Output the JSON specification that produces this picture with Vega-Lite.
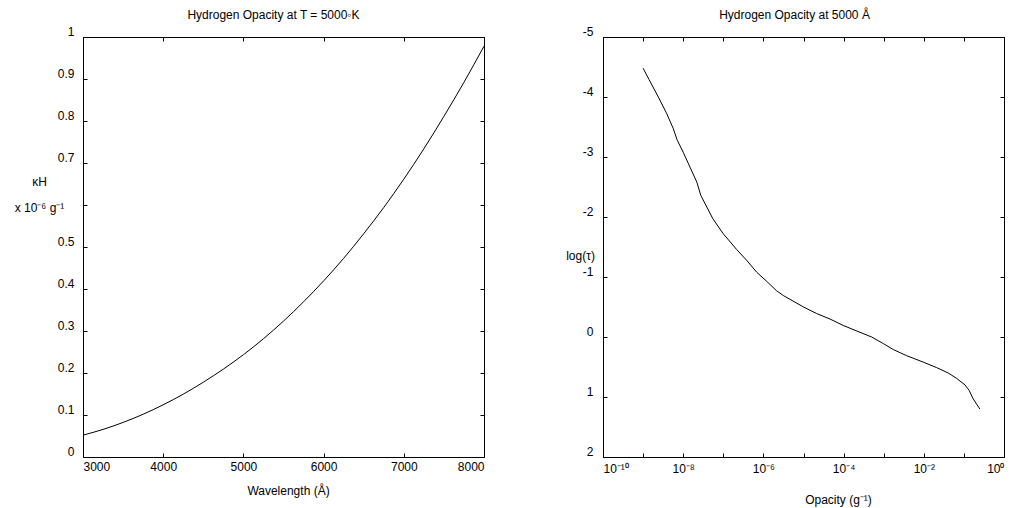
{
  "$schema": "https://vega.github.io/schema/vega-lite/v6.json",
  "background": "white",
  "padding": {"left": 13, "top": 8, "right": 5, "bottom": 2},
  "bounds": "flush",
  "spacing": 119,
  "config": {
    "font": "Liberation Sans",
    "view": {"stroke": "black", "strokeWidth": 1},
    "axis": {
      "grid": false,
      "domain": false,
      "tickColor": "black",
      "tickSize": -4,
      "tickWidth": 1,
      "labelFont": "Liberation Sans",
      "labelFontSize": 12,
      "labelColor": "black",
      "titleFont": "Liberation Sans",
      "titleFontSize": 12,
      "titleFontWeight": "normal",
      "titleColor": "black"
    },
    "title": {"font": "Liberation Sans", "fontSize": 12, "fontWeight": "normal", "color": "black", "offset": 3, "anchor": "middle"}
  },
  "hconcat": [
    {
      "width": 401,
      "height": 420,
      "title": {"text": "Hydrogen Opacity at T = 5000◦K", "dx": -10},
      "data": {"values": [
        {"wavelength": 3000, "kappa": 0.052},
        {"wavelength": 3250, "kappa": 0.0657},
        {"wavelength": 3500, "kappa": 0.0823},
        {"wavelength": 3750, "kappa": 0.1018},
        {"wavelength": 4000, "kappa": 0.1243},
        {"wavelength": 4250, "kappa": 0.1497},
        {"wavelength": 4500, "kappa": 0.178},
        {"wavelength": 4750, "kappa": 0.2093},
        {"wavelength": 5000, "kappa": 0.2435},
        {"wavelength": 5250, "kappa": 0.2816},
        {"wavelength": 5500, "kappa": 0.3236},
        {"wavelength": 5750, "kappa": 0.3695},
        {"wavelength": 6000, "kappa": 0.4193},
        {"wavelength": 6250, "kappa": 0.473},
        {"wavelength": 6500, "kappa": 0.5316},
        {"wavelength": 6750, "kappa": 0.5941},
        {"wavelength": 7000, "kappa": 0.6615},
        {"wavelength": 7250, "kappa": 0.7338},
        {"wavelength": 7500, "kappa": 0.811},
        {"wavelength": 7750, "kappa": 0.8921},
        {"wavelength": 8000, "kappa": 0.9781}
      ]},
      "layer": [
        {
          "mark": {"type": "line", "color": "black", "strokeWidth": 1, "interpolate": "monotone"},
          "encoding": {
            "x": {"field": "wavelength", "type": "quantitative",
              "scale": {"domain": [3000, 8000], "nice": false, "zero": false},
              "axis": {"orient": "bottom", "values": [3000, 4000, 5000, 6000, 7000, 8000], "format": "d", "labelPadding": 8,
                "title": "Wavelength (Å)", "titleX": 205, "titleY": 33, "titleBaseline": "middle", "titleAnchor": null}},
            "y": {"field": "kappa", "type": "quantitative",
              "scale": {"domain": [0, 1], "nice": false},
              "axis": {"orient": "left", "values": [0, 0.1, 0.2, 0.3, 0.4, 0.5, 0.6, 0.7, 0.8, 0.9, 1],
                "labelExpr": "abs(datum.value - 0.6) < 0.001 ? '' : format(datum.value, '~g')",
                "labelBaseline": "alphabetic", "labelOffset": -2, "labelPadding": 13,
                "title": ["κH", "x 10⁻⁶ g⁻¹"], "titleAngle": 0, "titleAlign": "center", "titleBaseline": "middle",
                "titleX": -44, "titleY": 144, "titleLineHeight": 26}}
          }
        },
        {
          "mark": {"type": "line", "strokeOpacity": 0},
          "encoding": {
            "x": {"field": "wavelength", "type": "quantitative",
              "axis": {"orient": "top", "values": [3000, 4000, 5000, 6000, 7000, 8000], "labels": false, "title": null}},
            "y": {"field": "kappa", "type": "quantitative",
              "axis": {"orient": "right", "values": [0, 0.1, 0.2, 0.3, 0.4, 0.5, 0.6, 0.7, 0.8, 0.9, 1], "labels": false, "title": null}}
          }
        }
      ],
      "resolve": {"axis": {"x": "independent", "y": "independent"}}
    },
    {
      "width": 401,
      "height": 420,
      "title": {"text": "Hydrogen Opacity at 5000 Å", "dx": -9},
      "data": {"values": [
        {"opacity": 1e-9, "logtau": -4.48},
        {"opacity": 1.41e-9, "logtau": -4.29},
        {"opacity": 2.4e-9, "logtau": -4.0},
        {"opacity": 3.9e-9, "logtau": -3.72},
        {"opacity": 5.6e-9, "logtau": -3.48},
        {"opacity": 7.1e-9, "logtau": -3.28},
        {"opacity": 1e-8, "logtau": -3.08},
        {"opacity": 1.48e-8, "logtau": -2.83},
        {"opacity": 2.19e-8, "logtau": -2.58},
        {"opacity": 2.75e-8, "logtau": -2.36},
        {"opacity": 5.5e-8, "logtau": -1.97},
        {"opacity": 1e-7, "logtau": -1.72},
        {"opacity": 2.14e-7, "logtau": -1.46},
        {"opacity": 3.8e-7, "logtau": -1.28},
        {"opacity": 6.8e-7, "logtau": -1.08},
        {"opacity": 1.2e-6, "logtau": -0.93},
        {"opacity": 2.14e-6, "logtau": -0.77},
        {"opacity": 3.16e-6, "logtau": -0.69},
        {"opacity": 1e-5, "logtau": -0.50},
        {"opacity": 2.14e-5, "logtau": -0.39},
        {"opacity": 4.57e-5, "logtau": -0.30},
        {"opacity": 1e-4, "logtau": -0.19},
        {"opacity": 2.14e-4, "logtau": -0.10},
        {"opacity": 5e-4, "logtau": 0.0},
        {"opacity": 9.8e-4, "logtau": 0.11},
        {"opacity": 1.74e-3, "logtau": 0.21},
        {"opacity": 3.7e-3, "logtau": 0.31},
        {"opacity": 9.8e-3, "logtau": 0.42},
        {"opacity": 0.0209, "logtau": 0.51},
        {"opacity": 0.0407, "logtau": 0.60},
        {"opacity": 0.066, "logtau": 0.69},
        {"opacity": 0.107, "logtau": 0.80},
        {"opacity": 0.135, "logtau": 0.89},
        {"opacity": 0.17, "logtau": 1.03},
        {"opacity": 0.25, "logtau": 1.20}
      ]},
      "layer": [
        {
          "mark": {"type": "line", "color": "black", "strokeWidth": 1},
          "encoding": {
            "x": {"field": "opacity", "type": "quantitative",
              "scale": {"type": "log", "domain": [1e-10, 1], "nice": false},
              "axis": {"orient": "bottom", "values": [1e-10, 1e-9, 1e-8, 1e-7, 1e-6, 1e-5, 1e-4, 1e-3, 1e-2, 1e-1, 1], "labelPadding": 10,
                "labelExpr": "round(log(datum.value)/LN10) == -10 ? '10⁻¹⁰' : round(log(datum.value)/LN10) == -8 ? '10⁻⁸' : round(log(datum.value)/LN10) == -6 ? '10⁻⁶' : round(log(datum.value)/LN10) == -4 ? '10⁻⁴' : round(log(datum.value)/LN10) == -2 ? '10⁻²' : round(log(datum.value)/LN10) == 0 ? '10⁰' : ''",
                "title": "Opacity (g⁻¹)", "titleX": 235, "titleY": 42, "titleBaseline": "middle", "titleAnchor": null}},
            "y": {"field": "logtau", "type": "quantitative",
              "scale": {"domain": [-5, 2], "reverse": true, "nice": false, "zero": false},
              "axis": {"orient": "left", "values": [-5, -4, -3, -2, -1, 0, 1, 2], "labelExpr": "'' + datum.value",
                "labelBaseline": "alphabetic", "labelOffset": -2, "labelPadding": 14,
                "title": "log(τ)", "titleAngle": 0, "titleAlign": "center", "titleBaseline": "middle",
                "titleX": -23, "titleY": 218}}
          }
        },
        {
          "mark": {"type": "line", "strokeOpacity": 0},
          "encoding": {
            "x": {"field": "opacity", "type": "quantitative",
              "axis": {"orient": "top", "values": [1e-10, 1e-9, 1e-8, 1e-7, 1e-6, 1e-5, 1e-4, 1e-3, 1e-2, 1e-1, 1], "labels": false, "title": null}},
            "y": {"field": "logtau", "type": "quantitative",
              "axis": {"orient": "right", "values": [-5, -4, -3, -2, -1, 0, 1, 2], "labels": false, "title": null}}
          }
        }
      ],
      "resolve": {"axis": {"x": "independent", "y": "independent"}}
    }
  ]
}
